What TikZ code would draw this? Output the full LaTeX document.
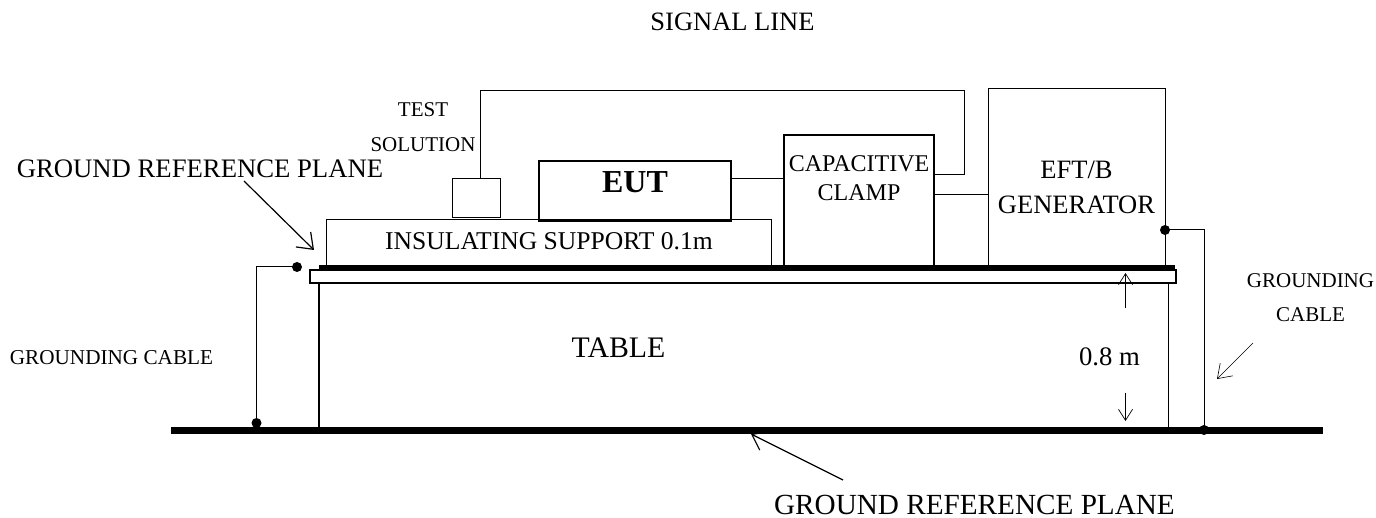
\documentclass[tikz,border=0pt]{standalone}
\usepackage{fontspec}
\setmainfont{Liberation Serif}
\usetikzlibrary{calc, positioning}
\usetikzlibrary{arrows.meta}
\tikzset{
  box/.style={draw, inner sep=0pt, outer sep=0pt, line width=#1},
  box/.default=1pt,
  wire/.style={line width=1pt},
  dot/.style={circle, fill=black, inner sep=0pt, minimum size=10pt},
  pointer/.style={-{Straight Barb[length=14pt, width=21pt]}, line width=1.2pt},
  dimline/.style={-{Straight Barb[length=11pt, width=14pt]}, line width=0.7pt},
  thinpointer/.style={-{Straight Barb[length=13pt, width=18pt]}, line width=0.6pt},
  lbl/.style={inner sep=0pt, font=\fontsize{#1}{#1}\selectfont}
}
\begin{document}
\begin{tikzpicture}[x=1pt, y=-1pt]
\useasboundingbox (0,0) rectangle (1376,518);

% floor and table
\node[box, fill=black, minimum width=1151pt, minimum height=6pt] (Floor) at (746.5,430) {};
\node[box=2pt, fill=white, minimum width=866pt, minimum height=13pt] (Plate) at (743,276.5) {};
\node[box, fill=black, minimum width=855pt, minimum height=5pt] (Plane) at (746.5,268.5) {};
\coordinate (LegLT) at (319,283);
\coordinate (LegLB) at (319,427);
\coordinate (LegRT) at (1168.5,283);
\coordinate (LegRB) at (1168.5,427);
\draw[line width=1.5pt] (LegLT) -- (LegLB);
\draw[line width=1.5pt] (LegRT) -- (LegRB);

% equipment on the plane
\node[box, minimum width=444.5pt, minimum height=47pt] (Support) at (548.75,243.5) {};
\node[box, fill=white, minimum width=48pt, minimum height=38.5pt] (Solution) at (476,198.25) {};
\node[box=1.5pt, fill=white, minimum width=192pt, minimum height=60pt] (EUT) at (635,191) {};
\draw[line width=3pt] (EUT.south west) -- (EUT.south east);
\node[box=1.5pt, minimum width=150pt, minimum height=132pt] (Clamp) at (859,201) {};
\node[box, minimum width=177pt, minimum height=178pt] (Generator) at (1076.5,178) {};

% wires
\coordinate (SigA) at (480,179);
\coordinate (SigB) at (480,91);
\coordinate (SigC) at (964,91);
\coordinate (SigD) at (964,174.5);
\coordinate (SigE) at (934,174.5);
\draw[wire] (SigA) -- (SigB) -- (SigC) -- (SigD) -- (SigE);
\coordinate (EutOut) at (731,179);
\coordinate (ClampIn) at (784,179);
\draw[wire] (EutOut) -- (ClampIn);
\coordinate (ClampOut) at (934,195);
\coordinate (GenIn) at (988,195);
\draw[wire] (ClampOut) -- (GenIn);

% grounding cables
\node[dot] (DotPlate) at (297,267) {};
\node[dot] (DotFloorL) at (256.5,423) {};
\node[dot] (DotGen) at (1165,230) {};
\node[dot] (DotFloorR) at (1204,430) {};
\draw[wire] (DotPlate.center) -| (DotFloorL.center);
\draw[wire] (DotGen.center) -| (DotFloorR.center);

% pointers
\coordinate (PtrPlaneA) at (244,181);
\coordinate (PtrPlaneB) at (314,250);
\draw[pointer] (PtrPlaneA) -- (PtrPlaneB);
\coordinate (PtrFloorA) at (843,480);
\coordinate (PtrFloorB) at (751,434);
\draw[pointer] (PtrFloorA) -- (PtrFloorB);
\coordinate (DimUpA) at (1125.5,308.5);
\coordinate (DimUpB) at (1125.5,273);
\draw[dimline] (DimUpA) -- (DimUpB);
\coordinate (DimDnA) at (1125.5,393);
\coordinate (DimDnB) at (1125.5,421);
\draw[dimline] (DimDnA) -- (DimDnB);
\coordinate (PtrCableA) at (1253,343);
\coordinate (PtrCableB) at (1217,379);
\draw[thinpointer] (PtrCableA) -- (PtrCableB);

% labels
\node[lbl=26.5] (SignalLbl) at (732.5,22) {SIGNAL LINE};
\node[lbl=21] (TestLbl) at (423,110) {TEST};
\node[lbl=21] (SolutionLbl) at (423,145) {SOLUTION};
\node[lbl=26.7] (PlaneLblA) at (200,169) {GROUND REFERENCE PLANE};
\node[lbl=32] (EutLbl) at (635,182) {\bfseries EUT};
\node[lbl=25.6] (SupportLbl) at (549,241) {INSULATING SUPPORT 0.1m};
\node[lbl=24] (ClampLblA) at (859,164) {CAPACITIVE};
\node[lbl=24] (ClampLblB) at (859,193) {CLAMP};
\node[lbl=26.5] (GenLblA) at (1076.5,170) {EFT/B};
\node[lbl=26.5] (GenLblB) at (1076.5,205) {GENERATOR};
\node[lbl=29.8] (TableLbl) at (618.5,348) {TABLE};
\node[lbl=21.2] (CableLblL) at (111.5,358) {GROUNDING CABLE};
\node[lbl=26.7] (DimLbl) at (1109.5,357) {0.8 m};
\node[lbl=21] (CableLblA) at (1310.5,281) {GROUNDING};
\node[lbl=21] (CableLblB) at (1310.5,315) {CABLE};
\node[lbl=29.2] (PlaneLblB) at (974.5,504.5) {GROUND REFERENCE PLANE};
\end{tikzpicture}
\end{document}
